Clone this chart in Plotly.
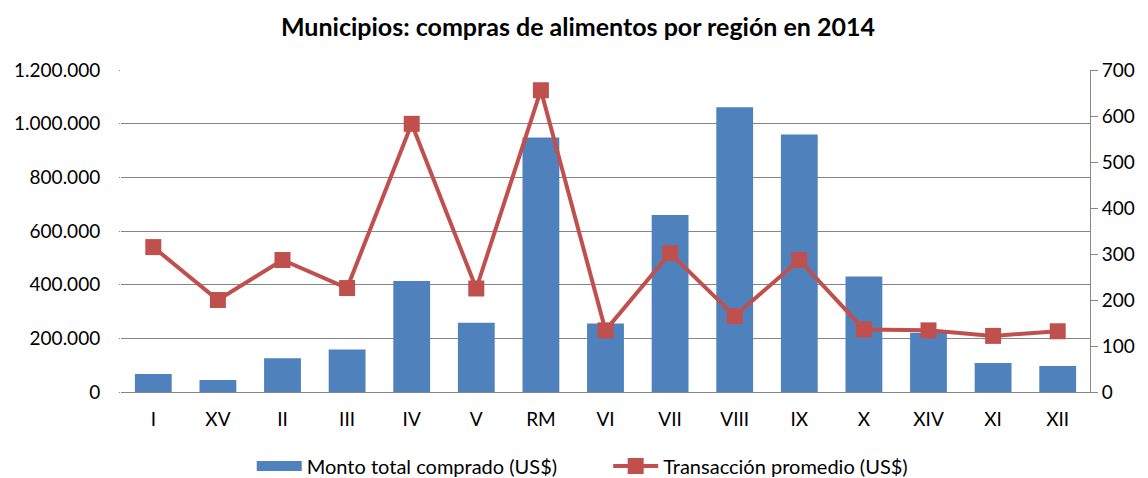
import plotly.graph_objects as go

regiones = ["I", "XV", "II", "III", "IV", "V", "RM", "VI", "VII", "VIII", "IX", "X", "XIV", "XI", "XII"]
monto_total = [67000, 45000, 126000, 158000, 414000, 258000, 948000, 255000, 660000, 1061000, 960000, 430000, 221000, 108000, 97000]
transaccion_promedio = [315, 200, 287, 226, 583, 225, 656, 134, 302, 165, 287, 136, 134, 122, 132]

font_family = "Lato, 'Open Sans', sans-serif"
bar_color = "#4F81BD"
line_color = "#C0504D"

fig = go.Figure()
fig.add_trace(go.Bar(
    x=regiones, y=monto_total, name="Monto total comprado (US$)",
    marker=dict(color=bar_color, line=dict(width=0)),
    yaxis="y", showlegend=False,
))
# legend-only entry to get a wide rectangular swatch like the original
fig.add_trace(go.Scatter(
    x=[None], y=[None], name="Monto total comprado (US$)" + "\u00a0" * 9,
    mode="lines", line=dict(color=bar_color, width=13),
    yaxis="y", showlegend=True,
))
fig.add_trace(go.Scatter(
    x=regiones, y=transaccion_promedio, name="Transacción promedio (US$)",
    mode="lines+markers",
    line=dict(color=line_color, width=4),
    marker=dict(symbol="square", size=16, color=line_color),
    yaxis="y2",
))

fig.update_layout(
    width=1140, height=470,
    margin=dict(l=113, r=58, t=62, b=86, autoexpand=False),
    paper_bgcolor="white", plot_bgcolor="white",
    separators=",.",
    bargap=0.43,
    font=dict(family=font_family, size=19, color="#000000"),
    title=dict(
        text="<b>Municipios: compras de alimentos por región en 2014</b>",
        x=0.5, xanchor="center", y=0.958, yanchor="middle",
        font=dict(family=font_family, size=25, color="#000000"),
    ),
    xaxis=dict(
        range=[-0.5, len(regiones) - 0.5],
        showline=True, linecolor="#868686", linewidth=1,
        ticks="", showgrid=False, automargin=False,
        ticklabelstandoff=10,
        tickfont=dict(size=19),
    ),
    yaxis=dict(
        range=[0, 1200000], dtick=200000, tickformat=",d",
        showgrid=True, gridcolor="#868686", gridwidth=1,
        zeroline=False, showline=False, automargin=False,
        ticks="outside", ticklen=1, tickcolor="#868686",
        ticklabelstandoff=15,
        tickfont=dict(size=19),
    ),
    yaxis2=dict(
        range=[0, 700], dtick=100, overlaying="y", side="right",
        showgrid=False, zeroline=False, automargin=False,
        showline=True, linecolor="#868686", linewidth=1,
        ticks="outside", ticklen=7, tickcolor="#868686",
        tickfont=dict(size=19),
    ),
    legend=dict(
        orientation="h", x=0.476, xanchor="center", y=-0.23, yanchor="middle",
        font=dict(size=20), itemwidth=45, traceorder="normal",
    ),
)

fig.write_html("out.html")
